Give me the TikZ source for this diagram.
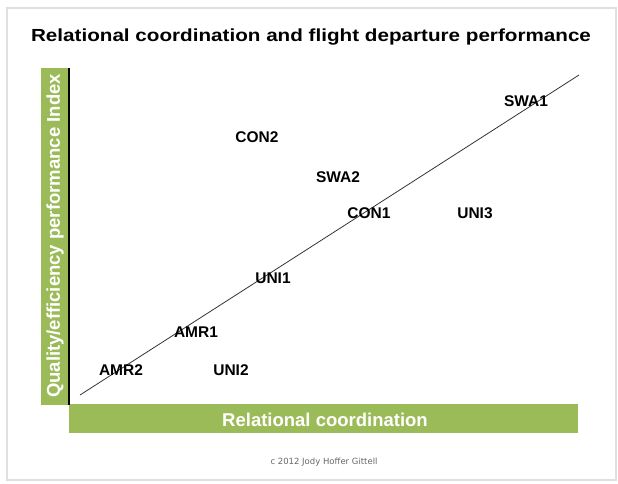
\documentclass[tikz,border=0pt]{standalone}
\usepackage{fontspec}
\setmainfont{Liberation Sans}
\newfontfamily\notefont{DejaVu Sans}
\usepackage{tikz}
\definecolor{barGreen}{HTML}{9BBB59}

\begin{document}
\begin{tikzpicture}[x=1pt, y=-1pt,
    airline/.style={font=\bfseries\fontsize{15.5}{16}\selectfont},
    axislabel/.style={font=\bfseries\fontsize{18.5}{19}\selectfont, text=white, inner sep=0pt}]
    \useasboundingbox (0,0) rectangle (618,483);
    % outer frame
    \draw[line width=2pt, black!12] (7,8) rectangle (616,480);
    % title
    \node[font=\bfseries\fontsize{17.5}{18}\selectfont, anchor=base] (title) at (311,41) {\scalebox{1.18}[1]{Relational coordination and flight departure performance}};
    % axis bars
    \fill[barGreen] (41,68) rectangle (68,405);
    \fill[barGreen] (69,404) rectangle (578,433);
    \coordinate (ytop) at (69,68);
    \coordinate (ybot) at (69,405);
    \draw[line width=1.5pt] (ytop) -- (ybot);
    % axis labels
    \node[axislabel, rotate=90] (ylab) at (55,236) {Quality/efficiency performance Index};
    \node[axislabel] (xlab) at (325,420) {Relational coordination};
    % trend line
    \coordinate (lo) at (80,395);
    \coordinate (hi) at (579,75);
    \draw[line width=0.8pt, black!80] (lo) -- (hi);
    % airlines
    \node[airline] (swa1) at (526,101) {SWA1};
    \node[airline] (con2) at (257,137) {CON2};
    \node[airline] (swa2) at (338,177) {SWA2};
    \node[airline] (con1) at (369,213) {CON1};
    \node[airline] (uni3) at (475,213) {UNI3};
    \node[airline] (uni1) at (273,278) {UNI1};
    \node[airline] (amr1) at (196,332) {AMR1};
    \node[airline] (amr2) at (121,370) {AMR2};
    \node[airline] (uni2) at (231,370) {UNI2};
    % copyright
    \node[font=\notefont\fontsize{8.5}{9}\selectfont, text=black!60] (note) at (324,462) {c 2012 Jody Hoffer Gittell};
\end{tikzpicture}
\end{document}
